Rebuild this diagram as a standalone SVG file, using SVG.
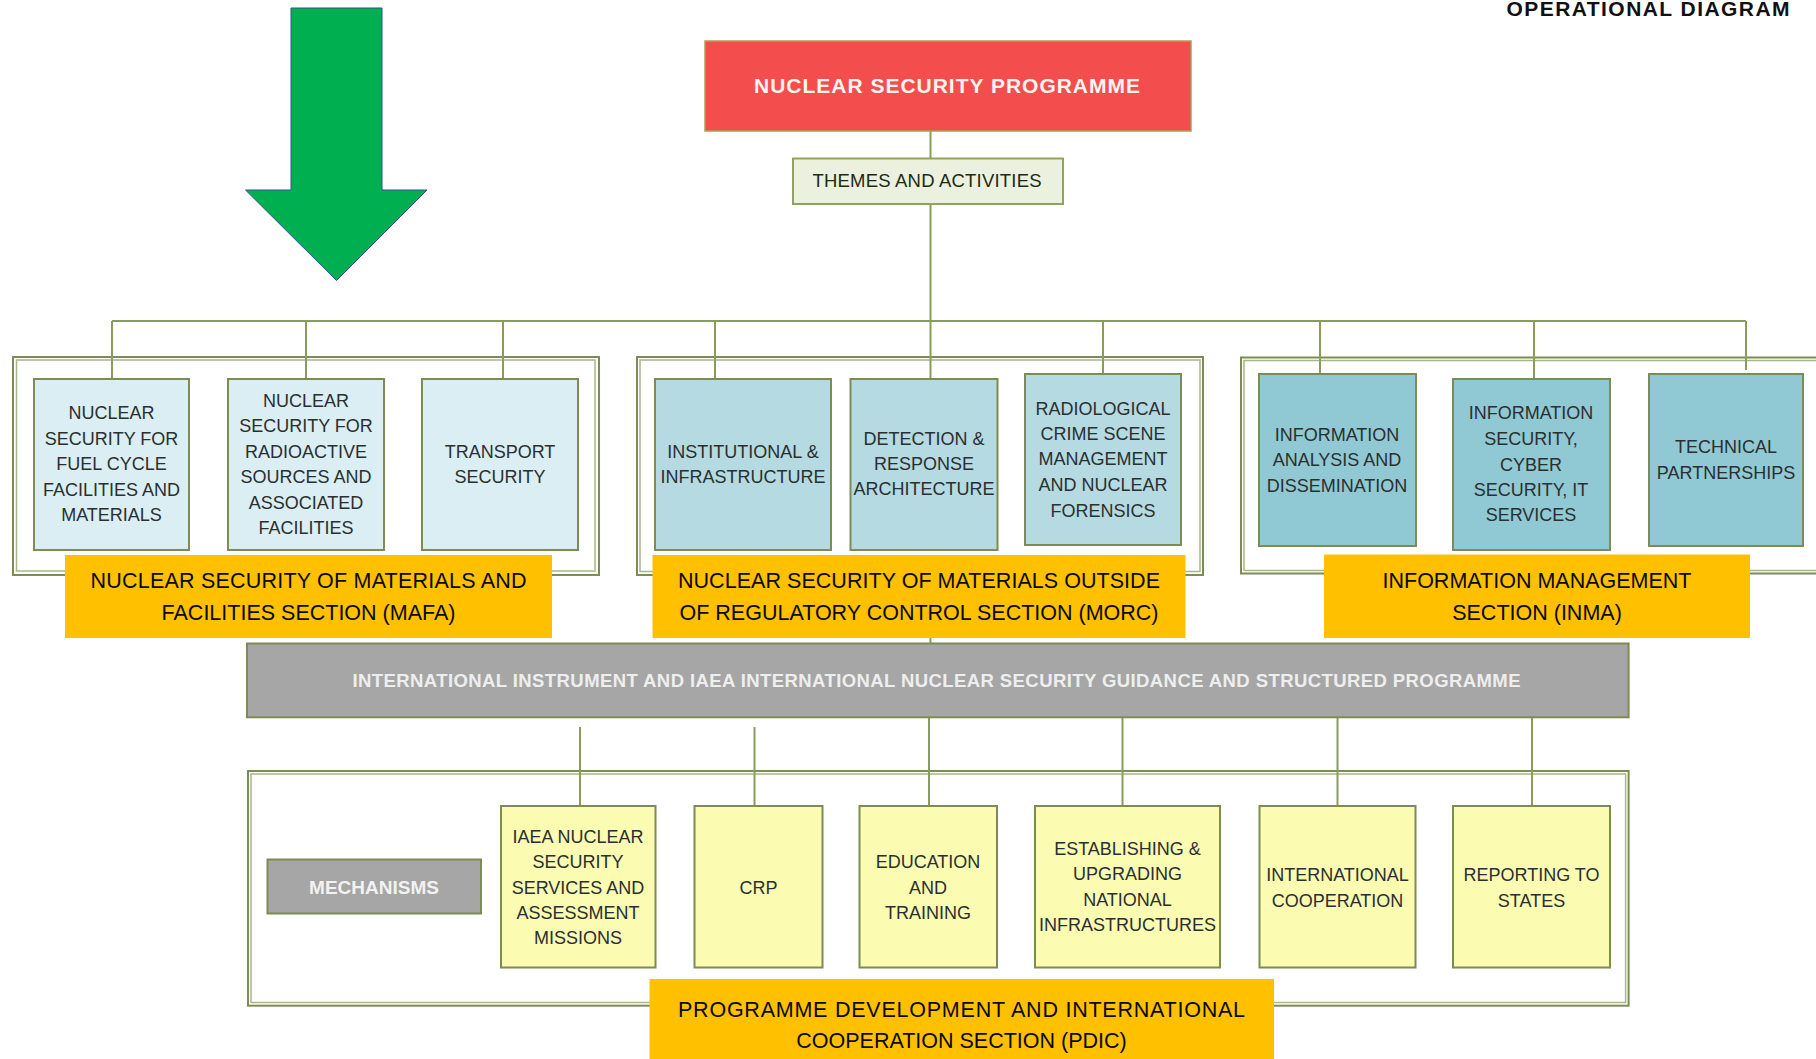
<svg xmlns="http://www.w3.org/2000/svg" width="1816" height="1059" viewBox="0 0 1816 1059">
<style>
text{font-family:"Liberation Sans",Arial,sans-serif;text-anchor:middle}
.bx{stroke:#7d8c55;stroke-width:2}
.mafa{fill:#daeef3}
.morc{fill:#b5dae2}
.inma{fill:#90c9d3}
.pdic{fill:#fbfbb2}
.t{font-size:18px;fill:#2a2f30}
.sec{fill:#ffc000}
.st{font-size:21.5px;fill:#0a0a0a}
.cont{fill:none;stroke:#7d8c55;stroke-width:2}
.cont2{fill:none;stroke:#a8b784;stroke-width:1.5}
.ln{stroke:#8a9c5a;stroke-width:2;fill:none}
</style>
<rect width="1816" height="1059" fill="#ffffff"/>

<g id="title">
<text x="1648" y="16" font-size="21" font-weight="bold" fill="#111" textLength="283">OPERATIONAL DIAGRAM</text>
</g>

<g id="green-arrow">
<polygon points="291,8 382,8 382,190 427,190 336.5,280.5 245.5,190 291,190" fill="#00b050" stroke="#2f528f" stroke-width="1"/>
</g>

<g id="containers">
<rect class="cont" x="13" y="357" width="586" height="218"/>
<rect class="cont2" x="16.5" y="360" width="578.5" height="211"/>
<rect class="cont" x="637" y="357" width="566" height="218"/>
<rect class="cont2" x="640" y="360" width="560" height="211.5"/>
<path class="cont" d="M1830,357.5 H1241 V573.5 H1830"/>
<path class="cont2" d="M1830,360.5 H1244 V570.5 H1830"/>
<rect class="cont" x="248" y="771" width="1380.6" height="234.7"/>
<rect class="cont2" x="251" y="774" width="1374.6" height="228.5"/>
</g>

<g id="connectors">
<line class="ln" x1="930.5" y1="131" x2="930.5" y2="158"/>
<line class="ln" x1="930.5" y1="204" x2="930.5" y2="379"/>
<line class="ln" x1="112" y1="321" x2="1746" y2="321"/>
<line class="ln" x1="112" y1="321" x2="112" y2="379"/>
<line class="ln" x1="306" y1="321" x2="306" y2="379"/>
<line class="ln" x1="503" y1="321" x2="503" y2="379"/>
<line class="ln" x1="715" y1="321" x2="715" y2="379"/>
<line class="ln" x1="1103" y1="321" x2="1103" y2="374"/>
<line class="ln" x1="1320" y1="321" x2="1320" y2="374"/>
<line class="ln" x1="1534" y1="321" x2="1534" y2="379"/>
<line class="ln" x1="1746" y1="321" x2="1746" y2="370"/>
<line class="ln" x1="930.5" y1="637" x2="930.5" y2="644"/>
<line class="ln" x1="580" y1="727" x2="580" y2="806"/>
<line class="ln" x1="754.5" y1="727" x2="754.5" y2="806"/>
<line class="ln" x1="929" y1="717" x2="929" y2="806"/>
<line class="ln" x1="1122.5" y1="717" x2="1122.5" y2="806"/>
<line class="ln" x1="1337.5" y1="717" x2="1337.5" y2="806"/>
<line class="ln" x1="1532" y1="717" x2="1532" y2="806"/>
</g>

<g id="nuclear-security-programme">
<rect x="705" y="41" width="486" height="90" fill="#f44d4d" stroke="#b59a5a" stroke-width="1.5"/>
<text x="947" y="93" font-size="21" font-weight="bold" fill="#fff4f0" textLength="386">NUCLEAR SECURITY PROGRAMME</text>
</g>

<g id="themes-and-activities">
<rect x="793" y="158.5" width="270" height="45.5" fill="#ebf1de" stroke="#8fa35c" stroke-width="2"/>
<text x="927" y="186.5" font-size="18.5" fill="#1e2a12" textLength="229">THEMES AND ACTIVITIES</text>
</g>

<g id="box-fuel-cycle">
<rect class="bx mafa" x="34" y="379" width="155" height="171"/>
<text class="t" x="111.5" y="419">NUCLEAR</text>
<text class="t" x="111.5" y="445">SECURITY FOR</text>
<text class="t" x="111.5" y="470">FUEL CYCLE</text>
<text class="t" x="111.5" y="495.5">FACILITIES AND</text>
<text class="t" x="111.5" y="521">MATERIALS</text>
</g>

<g id="box-radioactive-sources">
<rect class="bx mafa" x="228" y="379" width="156" height="171"/>
<text class="t" x="306" y="407">NUCLEAR</text>
<text class="t" x="306" y="432">SECURITY FOR</text>
<text class="t" x="306" y="457.5">RADIOACTIVE</text>
<text class="t" x="306" y="483">SOURCES AND</text>
<text class="t" x="306" y="508.5">ASSOCIATED</text>
<text class="t" x="306" y="534">FACILITIES</text>
</g>

<g id="box-transport">
<rect class="bx mafa" x="422" y="379" width="156" height="171"/>
<text class="t" x="500" y="457.5">TRANSPORT</text>
<text class="t" x="500" y="483">SECURITY</text>
</g>

<g id="box-institutional">
<rect class="bx morc" x="655" y="379" width="176" height="171"/>
<text class="t" x="743" y="458">INSTITUTIONAL &amp;</text>
<text class="t" x="743" y="483">INFRASTRUCTURE</text>
</g>

<g id="box-detection">
<rect class="bx morc" x="850.5" y="379" width="147" height="171"/>
<text class="t" x="924" y="444.5">DETECTION &amp;</text>
<text class="t" x="924" y="469.5">RESPONSE</text>
<text class="t" x="924" y="494.5">ARCHITECTURE</text>
</g>

<g id="box-radiological">
<rect class="bx morc" x="1025" y="374" width="156" height="171"/>
<text class="t" x="1103" y="414.5">RADIOLOGICAL</text>
<text class="t" x="1103" y="439.5">CRIME SCENE</text>
<text class="t" x="1103" y="465">MANAGEMENT</text>
<text class="t" x="1103" y="490.5">AND NUCLEAR</text>
<text class="t" x="1103" y="516.5">FORENSICS</text>
</g>

<g id="box-information-analysis">
<rect class="bx inma" x="1259" y="374" width="157" height="172"/>
<text class="t" x="1337" y="441">INFORMATION</text>
<text class="t" x="1337" y="466">ANALYSIS AND</text>
<text class="t" x="1337" y="491.5">DISSEMINATION</text>
</g>

<g id="box-information-security">
<rect class="bx inma" x="1453" y="379" width="157" height="171"/>
<text class="t" x="1531" y="419">INFORMATION</text>
<text class="t" x="1531" y="444.5">SECURITY,</text>
<text class="t" x="1531" y="470.5">CYBER</text>
<text class="t" x="1531" y="495.5">SECURITY, IT</text>
<text class="t" x="1531" y="520.5">SERVICES</text>
</g>

<g id="box-technical-partnerships">
<rect class="bx inma" x="1649" y="374" width="154" height="172"/>
<text class="t" x="1726" y="453">TECHNICAL</text>
<text class="t" x="1726" y="478.5">PARTNERSHIPS</text>
</g>

<g id="label-mafa">
<rect class="sec" x="65" y="555" width="487" height="83"/>
<text class="st" x="308.5" y="588" textLength="436">NUCLEAR SECURITY OF MATERIALS AND</text>
<text class="st" x="308.5" y="620">FACILITIES SECTION (MAFA)</text>
</g>

<g id="label-morc">
<rect class="sec" x="652.5" y="555" width="533" height="83"/>
<text class="st" x="919" y="588" textLength="482">NUCLEAR SECURITY OF MATERIALS OUTSIDE</text>
<text class="st" x="919" y="620">OF REGULATORY CONTROL SECTION (MORC)</text>
</g>

<g id="label-inma">
<rect class="sec" x="1324" y="554.5" width="426" height="83.5"/>
<text class="st" x="1537" y="588">INFORMATION MANAGEMENT</text>
<text class="st" x="1537" y="620">SECTION (INMA)</text>
</g>

<g id="international-instrument">
<rect x="247" y="643.5" width="1381.6" height="73.8" fill="#a6a6a6" stroke="#7d8c55" stroke-width="2"/>
<text x="936.5" y="686.5" font-size="18.5" font-weight="bold" fill="#eeeeee" textLength="1168">INTERNATIONAL INSTRUMENT AND IAEA INTERNATIONAL NUCLEAR SECURITY GUIDANCE AND STRUCTURED PROGRAMME</text>
</g>

<g id="mechanisms">
<rect x="267.5" y="859.5" width="213.5" height="54" fill="#a6a6a6" stroke="#7d8c55" stroke-width="2"/>
<text x="374" y="894" font-size="19" font-weight="bold" fill="#f2f2f2">MECHANISMS</text>
</g>

<g id="box-iaea-services">
<rect class="bx pdic" x="501" y="806" width="154.5" height="161.5"/>
<text class="t" x="578" y="842.5">IAEA NUCLEAR</text>
<text class="t" x="578" y="868">SECURITY</text>
<text class="t" x="578" y="893.5">SERVICES AND</text>
<text class="t" x="578" y="919">ASSESSMENT</text>
<text class="t" x="578" y="944">MISSIONS</text>
</g>

<g id="box-crp">
<rect class="bx pdic" x="694.5" y="806" width="128" height="161.5"/>
<text class="t" x="758.5" y="893.5">CRP</text>
</g>

<g id="box-education">
<rect class="bx pdic" x="859.5" y="806" width="137.5" height="161.5"/>
<text class="t" x="928" y="867.5">EDUCATION</text>
<text class="t" x="928" y="893.5">AND</text>
<text class="t" x="928" y="919">TRAINING</text>
</g>

<g id="box-establishing">
<rect class="bx pdic" x="1035" y="806" width="185" height="161.5"/>
<text class="t" x="1127.5" y="855">ESTABLISHING &amp;</text>
<text class="t" x="1127.5" y="880">UPGRADING</text>
<text class="t" x="1127.5" y="905.5">NATIONAL</text>
<text class="t" x="1127.5" y="931">INFRASTRUCTURES</text>
</g>

<g id="box-international-cooperation">
<rect class="bx pdic" x="1259.5" y="806" width="156" height="161.5"/>
<text class="t" x="1337.5" y="881">INTERNATIONAL</text>
<text class="t" x="1337.5" y="906.5">COOPERATION</text>
</g>

<g id="box-reporting">
<rect class="bx pdic" x="1453" y="806" width="157" height="161.5"/>
<text class="t" x="1531.5" y="881">REPORTING TO</text>
<text class="t" x="1531.5" y="906.5">STATES</text>
</g>

<g id="label-pdic">
<rect class="sec" x="649.5" y="979" width="624.5" height="82"/>
<text class="st" x="961.5" y="1016.5" textLength="567">PROGRAMME DEVELOPMENT AND INTERNATIONAL</text>
<text class="st" x="961.5" y="1048">COOPERATION SECTION (PDIC)</text>
</g>
</svg>
